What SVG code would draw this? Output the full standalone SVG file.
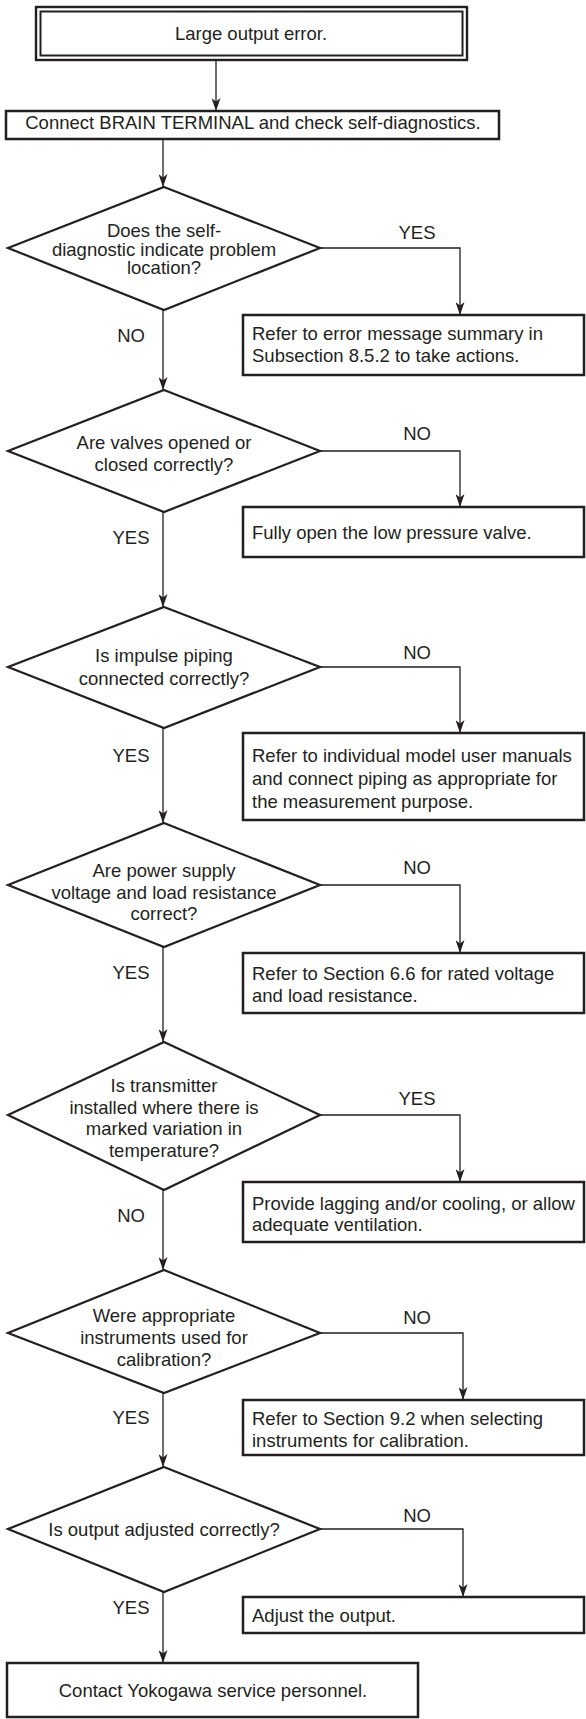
<svg xmlns="http://www.w3.org/2000/svg" width="586" height="1719" viewBox="0 0 586 1719">
<style>
text{font-family:"Liberation Sans",Arial,sans-serif;font-size:18.5px;fill:#231f20}
.c{text-anchor:middle}
.box{fill:#fff;stroke:#231f20;stroke-width:2.5}
.dia{fill:#fff;stroke:#231f20;stroke-width:2.2}
.ln{fill:none;stroke:#231f20;stroke-width:1.3}
</style>
<defs>
<marker id="ah" viewBox="0 0 13 9" refX="13" refY="4.5" markerWidth="13" markerHeight="9" markerUnits="userSpaceOnUse" orient="auto">
<path d="M0,0 L13,4.5 L0,9 L3.5,4.5 z" fill="#231f20"/>
</marker>
</defs>
<rect width="586" height="1719" fill="#fff"/>
<g id="connectors" class="ln" marker-end="url(#ah)">
<path d="M216,60 V111"/>
<path d="M163,139 V187"/>
<path d="M163,310 V390"/>
<path d="M163,512 V607"/>
<path d="M163,728 V823"/>
<path d="M163,947 V1042"/>
<path d="M163,1190 V1270"/>
<path d="M163,1393 V1467"/>
<path d="M163,1592 V1663"/>
<path d="M320,248 H460 V315"/>
<path d="M320,451 H460 V507"/>
<path d="M320,667 H460 V733"/>
<path d="M320,885 H460 V953"/>
<path d="M320,1115 H460 V1182"/>
<path d="M320,1333 H463 V1400"/>
<path d="M320,1529 H463 V1597"/>
</g>
<g id="labels">
<text class="c" x="417" y="238.5">YES</text>
<text class="c" x="131" y="341.5">NO</text>
<text class="c" x="417" y="439.5">NO</text>
<text class="c" x="131" y="543.5">YES</text>
<text class="c" x="417" y="658.5">NO</text>
<text class="c" x="131" y="761.5">YES</text>
<text class="c" x="417" y="873.5">NO</text>
<text class="c" x="131" y="978.5">YES</text>
<text class="c" x="417" y="1104.5">YES</text>
<text class="c" x="131" y="1221.5">NO</text>
<text class="c" x="417" y="1323.5">NO</text>
<text class="c" x="131" y="1423.5">YES</text>
<text class="c" x="417" y="1521.5">NO</text>
<text class="c" x="131" y="1613.5">YES</text>
</g>
<g id="start">
<rect x="36" y="7" width="431" height="53" fill="#fff" stroke="#231f20" stroke-width="2.4"/>
<rect x="40.5" y="11.5" width="422" height="44" fill="none" stroke="#231f20" stroke-width="2"/>
<text class="c" x="251" y="40">Large output error.</text>
</g>
<g id="connect">
<rect class="box" x="6" y="111" width="493" height="28"/>
<text class="c" x="253" y="128.5">Connect BRAIN TERMINAL and check self-diagnostics.</text>
</g>
<g id="d1">
<polygon class="dia" points="164,187 320,248 164,310 8,248"/>
<text class="c" x="164" y="236.5">Does the self-</text>
<text class="c" x="164" y="255.5">diagnostic indicate problem</text>
<text class="c" x="164" y="274">location?</text>
</g>
<g id="r1">
<rect class="box" x="243" y="315" width="341" height="60"/>
<text x="252" y="339.5">Refer to error message summary in</text>
<text x="252" y="361.5">Subsection 8.5.2 to take actions.</text>
</g>
<g id="d2">
<polygon class="dia" points="164,390 320,451 164,512 8,451"/>
<text class="c" x="164" y="449">Are valves opened or</text>
<text class="c" x="164" y="471">closed correctly?</text>
</g>
<g id="r2">
<rect class="box" x="243" y="507" width="341" height="50"/>
<text x="252" y="539">Fully open the low pressure valve.</text>
</g>
<g id="d3">
<polygon class="dia" points="164,607 320,667 164,728 8,667"/>
<text class="c" x="164" y="661.5">Is impulse piping</text>
<text class="c" x="164" y="684.5">connected correctly?</text>
</g>
<g id="r3">
<rect class="box" x="243" y="733" width="341" height="87"/>
<text x="252" y="761.5">Refer to individual model user manuals</text>
<text x="252" y="784.5">and connect piping as appropriate for</text>
<text x="252" y="807.5">the measurement purpose.</text>
</g>
<g id="d4">
<polygon class="dia" points="164,823 320,885 164,947 8,885"/>
<text class="c" x="164" y="876.5">Are power supply</text>
<text class="c" x="164" y="898.5">voltage and load resistance</text>
<text class="c" x="164" y="919.5">correct?</text>
</g>
<g id="r4">
<rect class="box" x="243" y="953" width="341" height="60"/>
<text x="252" y="979.5">Refer to Section 6.6 for rated voltage</text>
<text x="252" y="1001.5">and load resistance.</text>
</g>
<g id="d5">
<polygon class="dia" points="164,1042 320,1115 164,1190 8,1115"/>
<text class="c" x="164" y="1091.5">Is transmitter</text>
<text class="c" x="164" y="1113.5">installed where there is</text>
<text class="c" x="164" y="1134.5">marked variation in</text>
<text class="c" x="164" y="1156.5">temperature?</text>
</g>
<g id="r5">
<rect class="box" x="243" y="1182" width="341" height="60"/>
<text x="252" y="1209.5">Provide lagging and/or cooling, or allow</text>
<text x="252" y="1230.5">adequate ventilation.</text>
</g>
<g id="d6">
<polygon class="dia" points="164,1270 320,1333 164,1393 8,1333"/>
<text class="c" x="164" y="1321.5">Were appropriate</text>
<text class="c" x="164" y="1343.5">instruments used for</text>
<text class="c" x="164" y="1366">calibration?</text>
</g>
<g id="r6">
<rect class="box" x="243" y="1400" width="341" height="55"/>
<text x="252" y="1424.5">Refer to Section 9.2 when selecting</text>
<text x="252" y="1446.5">instruments for calibration.</text>
</g>
<g id="d7">
<polygon class="dia" points="164,1467 320,1529 164,1592 8,1529"/>
<text class="c" x="164" y="1535.5">Is output adjusted correctly?</text>
</g>
<g id="r7">
<rect class="box" x="243" y="1597" width="341" height="36"/>
<text x="252" y="1621.5">Adjust the output.</text>
</g>
<g id="end">
<rect class="box" x="7" y="1663" width="411" height="54"/>
<text class="c" x="213" y="1696.5">Contact Yokogawa service personnel.</text>
</g>
</svg>
